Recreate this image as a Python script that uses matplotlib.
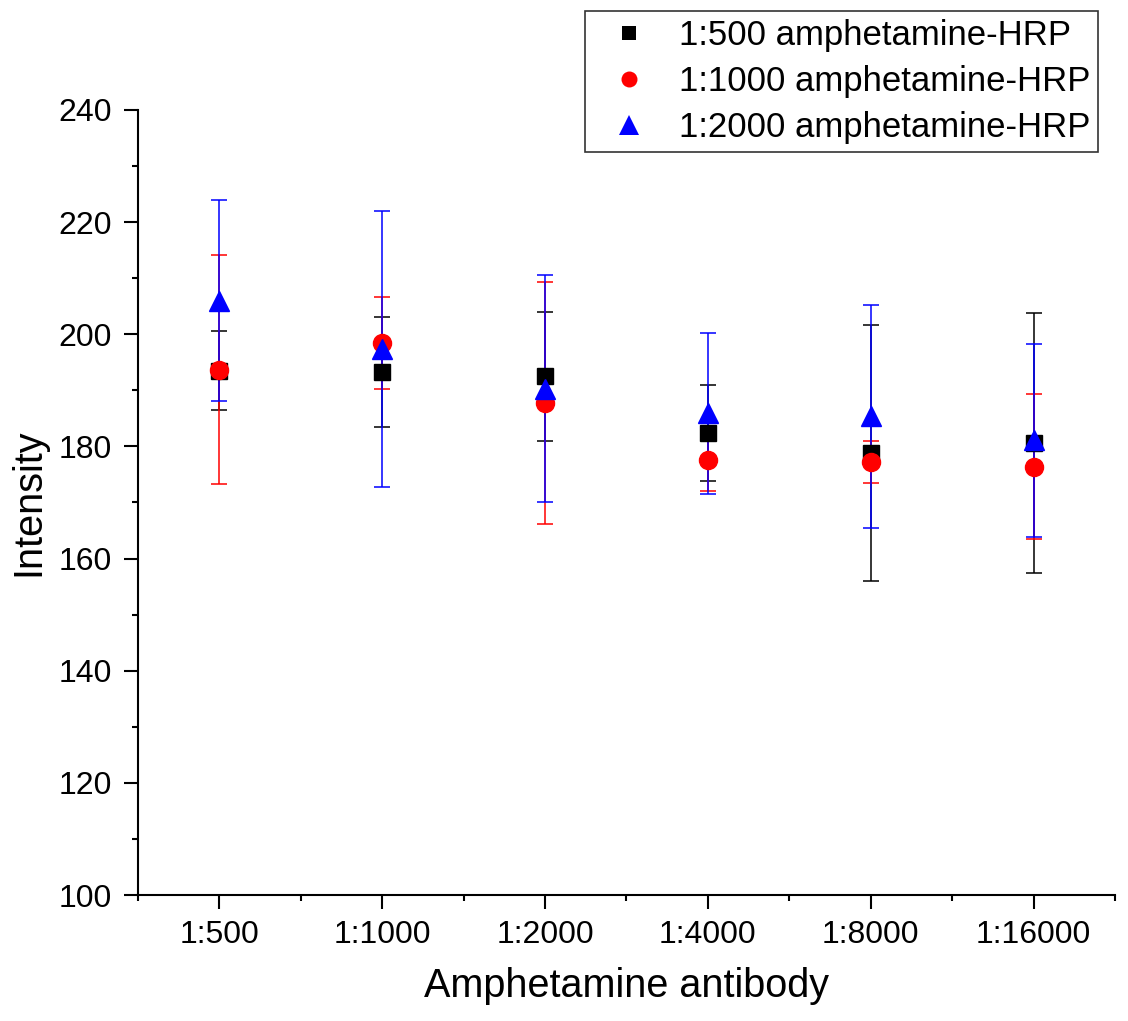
import numpy as np
import matplotlib.pyplot as plt
from matplotlib.lines import Line2D
from matplotlib.ticker import MultipleLocator

plt.rcParams["font.family"] = ["Liberation Sans", "DejaVu Sans"]

antibody = ["1:500", "1:1000", "1:2000", "1:4000", "1:8000", "1:16000"]

hrp500_mean = [193.5, 193.2, 192.5, 182.4, 178.8, 180.6]
hrp500_err = [7.0, 9.8, 11.5, 8.6, 22.8, 23.2]

hrp1000_mean = [193.7, 198.5, 187.8, 177.6, 177.2, 176.4]
hrp1000_err = [20.4, 8.2, 21.6, 5.5, 3.8, 13.0]

hrp2000_mean = [206.0, 197.4, 190.3, 185.9, 185.4, 181.1]
hrp2000_err = [17.9, 24.6, 20.3, 14.4, 19.9, 17.2]


def plot_intensity():
    fig = plt.figure(figsize=(11.28, 10.21), dpi=100)
    ax = fig.add_axes([0.1223, 0.1234, 0.8662, 0.7689])
    x = np.arange(1, len(antibody) + 1)

    # mean, err, marker, plot size, legend size, colour, label
    series = [
        (hrp500_mean, hrp500_err, "s", 12, 10, "black", "1:500 amphetamine-HRP"),
        (hrp1000_mean, hrp1000_err, "o", 13, 11.5, "red", "1:1000 amphetamine-HRP"),
        (hrp2000_mean, hrp2000_err, "^", 15, 15, "blue", "1:2000 amphetamine-HRP"),
    ]
    handles = []
    for mean, err, marker, ms, leg_ms, color, label in series:
        ax.errorbar(x, mean, yerr=err, fmt=marker, ms=ms, color=color,
                    ecolor=color, elinewidth=1.1, capsize=5.5, capthick=1.1)
        handles.append(Line2D([], [], ls="none", marker=marker, ms=leg_ms,
                              color=color, mew=0, label=label))

    ax.set_xlim(0.5, 6.5)
    ax.set_ylim(100, 240)
    ax.set_xticks(x)
    ax.set_xticklabels(antibody)
    ax.xaxis.set_minor_locator(MultipleLocator(1, offset=0.5))
    ax.yaxis.set_major_locator(MultipleLocator(20))
    ax.yaxis.set_minor_locator(MultipleLocator(10))

    for side in ["top", "right"]:
        ax.spines[side].set_visible(False)
    for side in ["left", "bottom"]:
        ax.spines[side].set_linewidth(1.5)

    ax.tick_params(which="major", length=10, width=1.5, labelsize=23)
    ax.tick_params(which="minor", length=4.5, width=1.5)
    ax.tick_params(axis="y", which="major", pad=9)
    ax.tick_params(axis="x", which="major", pad=8)

    ax.set_xlabel("Amphetamine antibody", fontsize=28.5, labelpad=12)
    ax.set_ylabel("Intensity", fontsize=28.5, labelpad=8)

    leg = ax.legend(handles=handles, loc="upper right",
                    bbox_to_anchor=(1098 / 1128, 1 - 11 / 1021),
                    bbox_transform=fig.transFigure, borderaxespad=0,
                    fontsize=25, frameon=True, fancybox=False,
                    edgecolor="black", handletextpad=0.4, borderpad=0.23,
                    labelspacing=0.38, handlelength=2.07)
    leg.get_frame().set_linewidth(1.2)

    fig.savefig("out.png", dpi=100)


if __name__ == "__main__":
    plot_intensity()
